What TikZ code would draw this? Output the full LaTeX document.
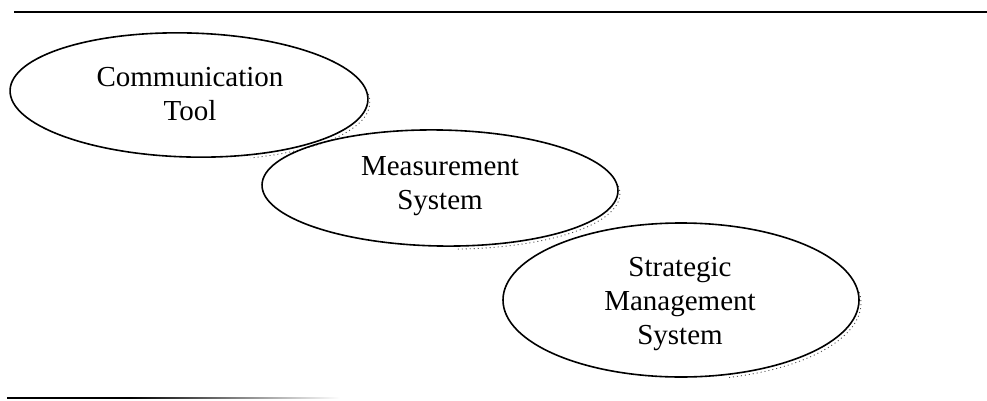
\documentclass[tikz,border=0pt]{standalone}
\usepackage{fontspec}
\setmainfont{Liberation Serif}
\usetikzlibrary{calc}
\begin{document}
\begin{tikzpicture}[x=1pt,y=1pt,
  label/.style={align=center,inner sep=0pt,font=\fontsize{29}{34}\selectfont},
  ring/.style={draw=black,line width=1.6pt},
  ringshadow/.style={draw=black!70,line width=0.9pt,dash pattern=on 1pt off 3pt},
  rule/.style={line width=1.5pt}]
  \useasboundingbox (0,0) rectangle (987,400);

  % horizontal rules framing the figure
  \coordinate (tl) at (14,388);
  \coordinate (tr) at (987,388);
  \draw[rule] (tl) -- (tr);
  \coordinate (bl) at (7,2);
  \coordinate (bm) at (130,2);
  \draw[rule] (bl) -- (bm);
  \shade[left color=black,right color=white] (130,1.25) rectangle (340,2.75);

  % labels
  \node[label] (comm) at (190,306) {Communication\\Tool};
  \node[label] (meas) at (440,214) {Measurement\\System};
  \node[label] (strat) at (680,96) {Strategic\\Management\\System};

  % ellipses with a faint dotted shadow on the lower right
  \draw[ringshadow,rotate around={-1.5:(189,305)}]
    ($(189,305)+(2,-3)+({179*cos(8)},{62*sin(8)})$) arc[start angle=8,end angle=-70,x radius=179,y radius=62];
  \draw[ring,rotate around={-1.5:(189,305)}] (189,305) ellipse[x radius=179,y radius=62];

  \draw[ringshadow,rotate around={-1:(440,212)}]
    ($(440,212)+(2,-3)+({178*cos(8)},{58*sin(8)})$) arc[start angle=8,end angle=-85,x radius=178,y radius=58];
  \draw[ring,rotate around={-1:(440,212)}] (440,212) ellipse[x radius=178,y radius=58];

  \draw[ringshadow]
    ($(681,100)+(2,-3)+({178*cos(8)},{77*sin(8)})$) arc[start angle=8,end angle=-75,x radius=178,y radius=77];
  \draw[ring] (681,100) ellipse[x radius=178,y radius=77];
\end{tikzpicture}
\end{document}
